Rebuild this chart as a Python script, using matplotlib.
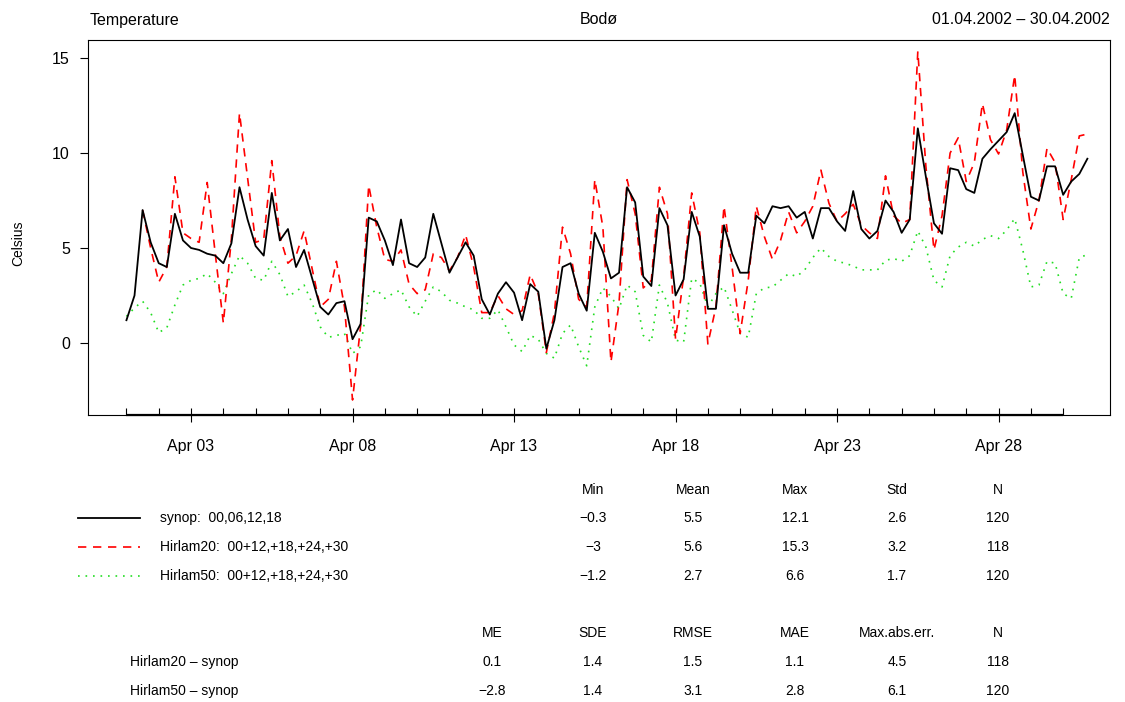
import matplotlib
matplotlib.use('Agg')
import matplotlib.pyplot as plt
import matplotlib.dates as mdates
from matplotlib.lines import Line2D
from matplotlib.ticker import FixedLocator
import numpy as np
import pandas as pd

plt.rcParams['font.family'] = ['Liberation Sans', 'DejaVu Sans']

W, H = 1125, 702

# 6-hourly values, 01.04.2002 00 UTC .. 30.04.2002 18 UTC
times = pd.date_range('2002-04-01 00:00', periods=120, freq='6h')
days = pd.date_range('2002-04-01', '2002-04-30', freq='D')

synop = [1.2, 2.5, 7.0, 5.3, 4.2, 4.0, 6.8, 5.4, 5.0, 4.9,
         4.7, 4.6, 4.2, 5.25, 8.2, 6.5, 5.1, 4.6, 7.9, 5.4,
         6.0, 4.0, 4.9, 3.4, 1.9, 1.5, 2.1, 2.2, 0.2, 1.0,
         6.6, 6.4, 5.4, 4.1, 6.5, 4.2, 4.0, 4.5, 6.8, 5.25,
         3.7, 4.5, 5.3, 4.6, 2.3, 1.5, 2.6, 3.2, 2.65, 1.2,
         3.1, 2.7, -0.3, 1.2, 4.0, 4.2, 2.6, 1.7, 5.8, 4.8,
         3.4, 3.7, 8.2, 7.4, 3.5, 3.0, 7.1, 6.2, 2.5, 3.35,
         6.9, 5.6, 1.8, 1.8, 6.2, 4.7, 3.7, 3.7, 6.7, 6.3,
         7.2, 7.1, 7.2, 6.6, 6.9, 5.5, 7.1, 7.1, 6.4, 5.9,
         8.0, 6.0, 5.5, 5.9, 7.5, 6.9, 5.8, 6.5, 11.3, 8.75,
         6.3, 5.75, 9.2, 9.1, 8.1, 7.9, 9.7, 10.2, 10.65, 11.1,
         12.1, 9.9, 7.7, 7.5, 9.3, 9.3, 7.8, 8.5, 8.9, 9.7]

hirlam20 = [np.nan, np.nan, 7.0, 5.0, 3.2, 4.0, 8.75, 5.8, 5.5, 5.3,
            8.45, 4.7, 1.05, 5.5, 12.1, 8.7, 5.3, 5.45, 9.6, 5.6,
            4.2, 4.6, 5.9, 3.9, 1.9, 2.3, 4.3, 1.9, -3.0, 0.9,
            8.3, 6.1, 4.4, 4.3, 4.9, 3.1, 2.6, 2.8, 4.7, 4.5,
            3.8, 4.5, 5.7, 4.0, 1.6, 1.6, 2.5, 1.8, 1.5, 1.7,
            3.6, 2.6, -0.5, 1.6, 6.1, 4.7, 2.3, 1.9, 8.6, 6.1,
            -1.0, 2.1, 8.6, 6.8, 2.9, 3.3, 8.2, 6.8, 0.2, 3.5,
            7.9, 5.8, -0.05, 1.9, 7.2, 4.0, 0.5, 3.3, 7.2, 5.6,
            4.4, 5.4, 6.9, 5.8, 6.4, 7.2, 9.1, 7.35, 6.4, 6.8,
            7.3, 6.2, 5.8, 5.5, 8.8, 6.7, 6.3, 6.5, 15.35, 9.3,
            4.9, 6.7, 10.0, 10.8, 8.5, 9.5, 12.6, 10.7, 9.95, 11.2,
            14.1, 9.0, 6.0, 7.5, 10.25, 9.5, 6.5, 8.6, 10.9, 11.0]

hirlam50 = [1.4, 1.85, 2.2, 1.6, 0.55, 0.8, 2.0, 3.05, 3.3, 3.4,
            3.65, 3.2, 2.6, 3.65, 4.6, 4.2, 3.4, 3.3, 4.3, 3.6,
            2.45, 2.7, 3.05, 2.1, 0.85, 0.3, 0.4, 0.5, -0.55, -0.2,
            2.55, 2.8, 2.35, 2.6, 2.8, 1.9, 1.4, 2.2, 2.95, 2.7,
            2.25, 2.1, 1.9, 1.75, 1.3, 1.3, 1.75, 0.85, -0.1, -0.45,
            0.4, 0.2, -0.55, -0.8, 0.5, 0.95, -0.2, -1.2, 1.9, 2.9,
            2.45, 1.8, 3.05, 2.7, 0.4, 0.05, 3.05, 2.1, 0.15, 0.05,
            3.4, 3.15, 1.9, 2.6, 2.95, 1.75, 0.5, 0.3, 2.6, 2.9,
            2.95, 3.3, 3.65, 3.5, 3.85, 4.5, 5.0, 4.55, 4.3, 4.2,
            4.05, 3.85, 3.85, 3.85, 4.35, 4.45, 4.3, 4.6, 5.9, 5.05,
            3.3, 2.95, 4.6, 5.05, 5.3, 5.1, 5.45, 5.65, 5.5, 5.95,
            6.55, 4.9, 2.95, 3.05, 4.3, 4.2, 2.6, 2.35, 4.5, 4.65]

series_labels = ['synop:  00,06,12,18',
                 'Hirlam20:  00+12,+18,+24,+30',
                 'Hirlam50:  00+12,+18,+24,+30']

stat_names = ['Min', 'Mean', 'Max', 'Std', 'N']
stat_rows = [['\u22120.3', '5.5', '12.1', '2.6', '120'],
             ['\u22123', '5.6', '15.3', '3.2', '118'],
             ['\u22121.2', '2.7', '6.6', '1.7', '120']]

err_names = ['ME', 'SDE', 'RMSE', 'MAE', 'Max.abs.err.', 'N']
err_labels = ['Hirlam20 \u2013 synop', 'Hirlam50 \u2013 synop']
err_rows = [['0.1', '1.4', '1.5', '1.1', '4.5', '118'],
            ['\u22122.8', '1.4', '3.1', '2.8', '6.1', '120']]

styles = [dict(color='black', lw=1.3, ls='-'),
          dict(color='#ff0000', lw=1.2, ls=(0, (5, 4))),
          dict(color='#22dd22', lw=1.2, ls=(0, (1, 3.5)))]


def fx(x):
    return x / W


def fy(y):
    return 1 - y / H


fig = plt.figure(figsize=(W / 100, H / 100), dpi=100)
ax = fig.add_axes([fx(88), fy(415), (1110 - 88) / W, (415 - 40) / H])

for vals, st in zip([synop, hirlam20, hirlam50][::-1], styles[::-1]):
    ax.plot(times, vals, **st)

t0 = times[0]
ax.set_xlim(t0 - pd.Timedelta(days=1.19), t0 + pd.Timedelta(days=30.45))
ax.set_ylim(-3.79, 15.95)
ax.set_yticks([0, 5, 10, 15])

ax.xaxis.set_major_locator(mdates.DayLocator(bymonthday=[3, 8, 13, 18, 23, 28]))
ax.xaxis.set_minor_locator(FixedLocator(mdates.date2num(days)))
ax.xaxis.set_major_formatter(mdates.DateFormatter('%b %d'))

ax.tick_params(axis='x', which='major', direction='inout', length=10, width=0.8,
               pad=12, labelsize=11.5)
ax.tick_params(axis='x', which='minor', direction='in', length=5, width=0.8)
ax.tick_params(axis='y', direction='out', length=6, width=0.8, pad=7, labelsize=11.5)
for s in ax.spines.values():
    s.set_linewidth(0.8)

# heavier axis line from first to last day tick
ax.plot([days[0], days[-1]], [0, 0], transform=ax.get_xaxis_transform(),
        color='black', lw=1.6, clip_on=False, solid_capstyle='butt')

fig.text(fx(18), fy(243), 'Celsius', fontsize=10, rotation=90,
         ha='center', va='center')

# header
fig.text(fx(90), fy(20), 'Temperature', fontsize=11.5, ha='left', va='center')
fig.text(fx(599), fy(20), 'Bod\u00f8', fontsize=11.5, ha='center', va='center')
fig.text(fx(1110), fy(20), '01.04.2002 \u2013 30.04.2002', fontsize=11.5,
         ha='right', va='center')

# statistics table
stat_x = [593, 693, 795, 897, 998]
for name, x in zip(stat_names, stat_x):
    fig.text(fx(x), fy(490), name, fontsize=10, ha='center', va='center')
row_y = [518, 547, 576]
for lab, row, st, y in zip(series_labels, stat_rows, styles, row_y):
    fig.add_artist(Line2D([fx(78), fx(140)], [fy(y), fy(y)], **st))
    fig.text(fx(160), fy(y), lab, fontsize=10, ha='left', va='center')
    for v, x in zip(row, stat_x):
        fig.text(fx(x), fy(y), v, fontsize=10, ha='center', va='center')

err_x = [492, 593, 693, 795, 897, 998]
for name, x in zip(err_names, err_x):
    fig.text(fx(x), fy(633), name, fontsize=10, ha='center', va='center')
for lab, row, y in zip(err_labels, err_rows, [662, 691]):
    fig.text(fx(130), fy(y), lab, fontsize=10, ha='left', va='center')
    for v, x in zip(row, err_x):
        fig.text(fx(x), fy(y), v, fontsize=10, ha='center', va='center')

fig.savefig('out.png', dpi=100)
